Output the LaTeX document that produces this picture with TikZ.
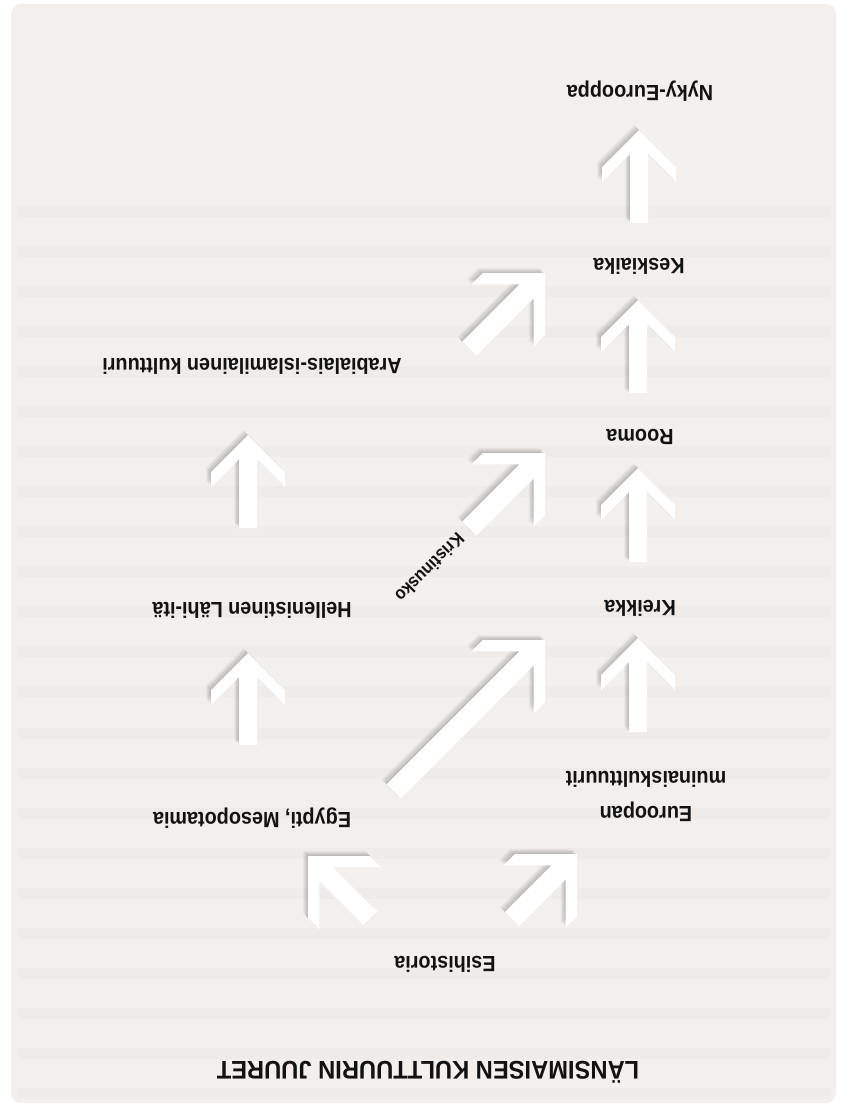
\documentclass[tikz,border=0pt]{standalone}
\usepackage{fontspec}
\setmainfont{Liberation Sans}
\newfontfamily\narrowfont{Liberation Sans}[FakeStretch=0.9]
\newfontfamily\titlefont{Liberation Sans}[FakeStretch=0.93]
\usetikzlibrary{calc}
\definecolor{page}{RGB}{242,239,237}
\definecolor{ink}{RGB}{18,18,18}
\tikzset{
  x=1pt, y=1pt,
  lbl/.style={font=\narrowfont\bfseries\fontsize{22}{35}\selectfont, rotate=180, inner sep=0pt, text=ink, align=center},
  ttl/.style={font=\titlefont\bfseries\fontsize{25.5}{28}\selectfont, rotate=180, inner sep=0pt, text=ink},
  band/.style={fill=black, fill opacity=0.014},
  pics/barrow/.style args={#1/#2/#3/#4}{code={
    \path[pic actions] (0,0) -- (-#2,#2) -- (-#2-#3,#2) -- (-#4-#3,#4) -- (-#1,#4)
      -- (-#1,-#4) -- (-#4-#3,-#4) -- (-#2-#3,-#2) -- (-#2,-#2) -- cycle;
  }},
}
% #1 tip coordinate, #2 angle, #3 length, #4 head half width, #5 cut, #6 half shaft width
\newcommand\blockarrow[6]{%
  \foreach \k in {1,...,7}{%
    \pic[rotate=#2, fill=black, fill opacity=0.03] at ($(#1)+(-0.7*\k,0.7*\k)$) {barrow=#3/#4/#5/#6};
  }
  \pic[rotate=#2, fill=white] at (#1) {barrow=#3/#4/#5/#6};
}
\newcommand\varrow[2]{\blockarrow{#1}{90}{#2}{37}{15}{9}}
\newcommand\darrow[3]{\blockarrow{#1}{#2}{#3}{44}{16}{10}}
\begin{document}
\begin{tikzpicture}
\useasboundingbox (0,0) rectangle (845,-1108);
\fill[white] (0,0) rectangle (845,-1108);
\fill[page, rounded corners=10] (11,-4) rectangle (836,-1103);
% faint show-through lines of the page
\foreach \yy in {206,246,286,326,366,406,446,486,526,566,606,646,686,728,768,808,848,888,928,968,1008,1048,1088}{
  \fill[band] (18,-\yy) rectangle (830,-\yy-11);
}

% labels
\node[ttl] (title) at (428,-1072) {LÄNSIMAISEN KULTTUURIN JUURET};
\node[lbl] (esi) at (445,-964) {Esihistoria};
\node[lbl] (egypti) at (252,-818) {Egypti, Mesopotamia};
\node[lbl] (euro) at (646,-796) {Euroopan\\muinaiskulttuurit};
\node[lbl] (hell) at (252,-610) {Hellenistinen Lähi-itä};
\node[lbl] (kreikka) at (640,-608) {Kreikka};
\node[lbl] (rooma) at (640,-437) {Rooma};
\node[lbl] (arab) at (252,-366) {Arabialais-islamilainen kulttuuri};
\node[lbl] (keski) at (639,-266) {Keskiaika};
\node[lbl] (nyky) at (640,-91) {Nyky-Eurooppa};
\node[font=\narrowfont\bfseries\fontsize{18}{20}\selectfont, rotate=225, inner sep=0pt, text=ink] (krist) at (430,-568) {Kristinusko};

% arrow tips
\coordinate (t1) at (639,-130);
\coordinate (t3) at (638,-300);
\coordinate (t5) at (638,-468);
\coordinate (t8) at (638,-638);
\coordinate (t6) at (248,-435);
\coordinate (t9) at (248,-653);
\coordinate (t2) at (545,-273);
\coordinate (t4) at (545,-453);
\coordinate (t7) at (545,-640);
\coordinate (t11) at (577,-854);
\coordinate (t12) at (308,-856);

\varrow{t1}{93}
\varrow{t3}{93}
\varrow{t5}{94}
\varrow{t8}{94}
\varrow{t6}{93}
\varrow{t9}{92}
\darrow{t2}{45}{107}
\darrow{t4}{45}{107}
\darrow{t7}{45}{214}
\darrow{t11}{45}{92}
\darrow{t12}{135}{88}
\end{tikzpicture}
\end{document}
